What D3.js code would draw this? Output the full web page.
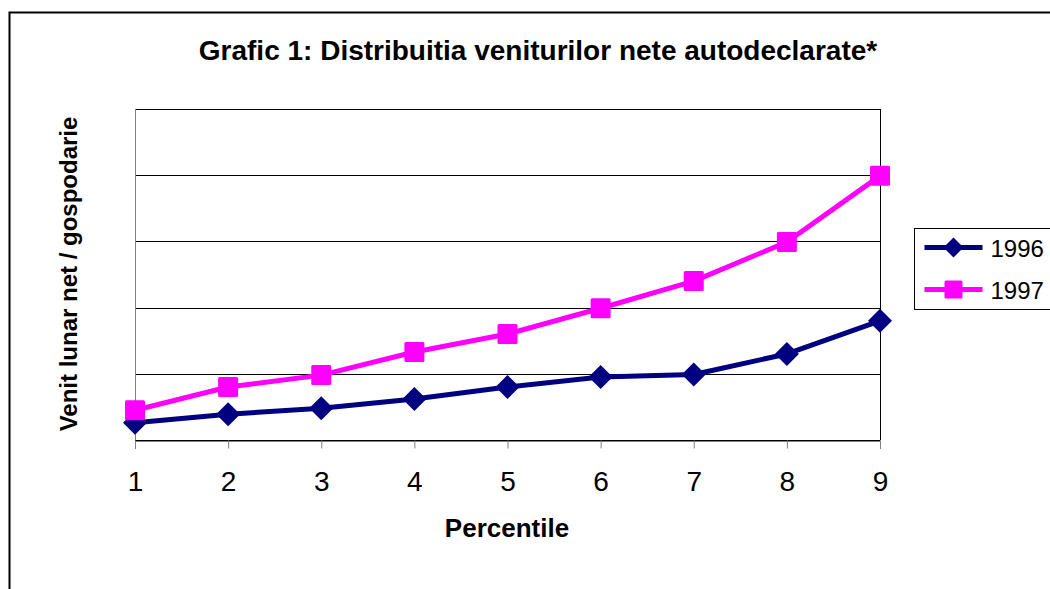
<!DOCTYPE html>
<html>
<head>
<meta charset="utf-8">
<script src="https://cdn.jsdelivr.net/npm/d3@7"></script>
<style>
  body { margin: 0; background: #fff; }
  svg { display: block; font-family: Arial, "Liberation Sans", sans-serif; }
</style>
</head>
<body>
<div id="chart"></div>
<script>
// date (unitati = un interval de grila)
const percentile = [1, 2, 3, 4, 5, 6, 7, 8, 9];
const v1996 = [0.26, 0.39, 0.48, 0.62, 0.80, 0.95, 0.99, 1.30, 1.80];
const v1997 = [0.45, 0.80, 0.98, 1.33, 1.60, 1.99, 2.40, 2.99, 3.99];
const gridTicks = [0, 1, 2, 3, 4, 5];
const seriesNames = ['1996', '1997'];

const W = 1050, H = 589;
const m = {left: 135, right: 880, top: 109, bottom: 440};

const svg = d3.select('#chart').append('svg')
  .attr('width', W).attr('height', H);

// chenarul exterior
svg.append('rect')
  .attr('x', 9.5).attr('y', 12.5)
  .attr('width', W + 20).attr('height', H + 20)
  .attr('fill', 'none').attr('stroke', '#000').attr('stroke-width', 2);

const x = d3.scaleLinear().domain([1, 9]).range([m.left, m.right]);
const y = d3.scaleLinear().domain([0, 5]).range([m.bottom, m.top]);

// grila
svg.append('g').selectAll('line')
  .data(gridTicks)
  .enter().append('line')
  .attr('x1', m.left).attr('x2', m.right)
  .attr('y1', d => Math.round(y(d)) + 0.5).attr('y2', d => Math.round(y(d)) + 0.5)
  .attr('stroke', '#000').attr('stroke-width', 1);

// marginile zonei de desen
svg.append('line')
  .attr('x1', m.left + 0.5).attr('x2', m.left + 0.5)
  .attr('y1', m.top).attr('y2', m.bottom)
  .attr('stroke', '#808080');
svg.append('line')
  .attr('x1', m.right + 0.5).attr('x2', m.right + 0.5)
  .attr('y1', m.top).attr('y2', m.bottom)
  .attr('stroke', '#000');

// axa x
const xAxis = d3.axisBottom(x).tickValues(percentile).tickSize(8).tickPadding(14).tickFormat(d3.format('d'));
const gx = svg.append('g')
  .attr('transform', `translate(0,${Math.round(y(0)) + 0.5})`)
  .call(xAxis);
gx.attr('font-size', null).attr('font-family', null);
gx.select('.domain').attr('stroke', '#000');
gx.selectAll('.tick line').attr('stroke', '#808080');
gx.selectAll('.tick text')
  .attr('fill', '#000')
  .attr('dy', null)
  .attr('y', 50)
  .style('font-size', '28px');

// titluri
svg.append('text')
  .attr('x', 538).attr('y', 60)
  .attr('text-anchor', 'middle')
  .style('font-size', '28px').style('font-weight', 'bold')
  .text('Grafic 1: Distribuitia veniturilor nete autodeclarate*');

svg.append('text')
  .attr('x', 507).attr('y', 537)
  .attr('text-anchor', 'middle')
  .style('font-size', '26px').style('font-weight', 'bold')
  .text('Percentile');

svg.append('text')
  .attr('transform', `translate(77,274) rotate(-90)`)
  .attr('text-anchor', 'middle')
  .style('font-size', '24px').style('font-weight', 'bold')
  .text('Venit lunar net / gospodarie');

// linii
const line = d3.line()
  .x((d, i) => x(percentile[i]))
  .y(d => y(d));

const colors = {'1996': '#000080', '1997': '#ff00ff'};
const data = {'1996': v1996, '1997': v1997};

const diamond = (w, h) => `M0,${-h} L${w},0 L0,${h} L${-w},0 Z`;

seriesNames.forEach(name => {
  svg.append('path')
    .attr('d', line(data[name]))
    .attr('fill', 'none')
    .attr('stroke', colors[name])
    .attr('stroke-width', 5)
    .attr('stroke-linejoin', 'round');
});

// markere
svg.append('g').selectAll('path')
  .data(v1996)
  .enter().append('path')
  .attr('transform', (d, i) => `translate(${x(percentile[i])},${y(d)})`)
  .attr('d', diamond(12, 12))
  .attr('fill', colors['1996']);

svg.append('g').selectAll('rect')
  .data(v1997)
  .enter().append('rect')
  .attr('x', (d, i) => x(percentile[i]) - 10)
  .attr('y', d => y(d) - 10)
  .attr('width', 20).attr('height', 20)
  .attr('rx', 1.5)
  .attr('fill', colors['1997']);

// legenda
const lg = svg.append('g').attr('transform', 'translate(914.5,228.5)');
lg.append('rect')
  .attr('width', 150).attr('height', 81)
  .attr('fill', '#fff').attr('stroke', '#000');
seriesNames.forEach((name, i) => {
  const yy = 19 + i * 42;
  lg.append('line')
    .attr('x1', 10).attr('x2', 68)
    .attr('y1', yy).attr('y2', yy)
    .attr('stroke', colors[name]).attr('stroke-width', 5);
  if (name === '1996') {
    lg.append('path').attr('transform', `translate(39,${yy})`)
      .attr('d', diamond(10, 10)).attr('fill', colors[name]);
  } else {
    lg.append('rect').attr('x', 30).attr('y', yy - 9)
      .attr('width', 18).attr('height', 18).attr('rx', 1.5).attr('fill', colors[name]);
  }
  lg.append('text')
    .attr('x', 76).attr('y', yy + 9)
    .style('font-size', '24px')
    .text(name);
});
</script>
</body>
</html>
